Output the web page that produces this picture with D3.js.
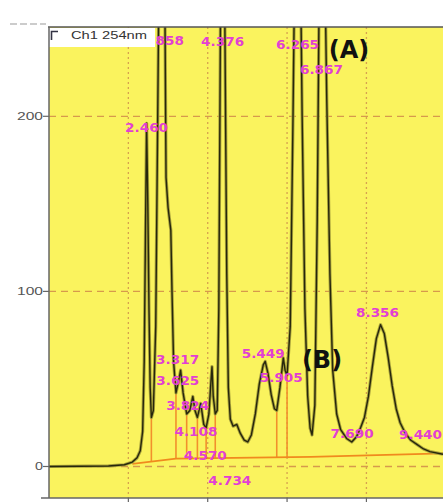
<!DOCTYPE html>
<meta charset="utf-8">
<style>
body { margin: 0; background: #fff; }
svg { display: block; font-family: "DejaVu Sans", sans-serif; }
</style>
<svg width="443" height="502"></svg>
<script src="https://cdnjs.cloudflare.com/ajax/libs/d3/7.8.5/d3.min.js"></script>
<script>

// chromatogram trace, Ch1 254nm (time in min, signal in mAU)
var traceTime = [0.00, 1.50, 1.90, 2.10, 2.22, 2.30, 2.36, 2.40, 2.43, 2.46, 2.49, 2.52, 2.55, 2.58,
  2.63, 2.69, 2.74, 2.78, 2.858, 2.91, 2.95, 3.00, 3.07, 3.10, 3.14, 3.20, 3.26, 3.317, 3.38, 3.47,
  3.55, 3.625, 3.68, 3.74, 3.824, 3.90, 3.96, 4.03, 4.08, 4.108, 4.14, 4.19, 4.24, 4.28, 4.32, 4.376,
  4.43, 4.48, 4.52, 4.570, 4.64, 4.734, 4.82, 4.92, 5.01, 5.10, 5.20, 5.30, 5.40, 5.449, 5.52, 5.60,
  5.68, 5.74, 5.82, 5.905, 5.95, 6.00, 6.08, 6.15, 6.21, 6.265, 6.32, 6.38, 6.45, 6.52, 6.58, 6.63,
  6.70, 6.76, 6.82, 6.867, 6.93, 7.00, 7.08, 7.15, 7.25, 7.35, 7.50, 7.63, 7.75, 7.85, 7.95, 8.05,
  8.15, 8.25, 8.356, 8.45, 8.55, 8.65, 8.75, 8.85, 8.98, 9.12, 9.28, 9.44, 9.60, 9.93];
var traceValue = [0, 0.3, 1, 2.5, 5, 9, 20, 60, 130, 196, 150, 90, 45, 28,
  32, 80, 200, 300, 380, 300, 165, 148, 135, 100, 60, 42, 48, 55, 42, 30,
  32, 40, 32, 28, 36, 24, 22, 30, 48, 57, 40, 30, 32, 90, 250, 400,
  260, 110, 45, 27, 23, 24, 19, 15, 14, 18, 30, 47, 58, 60, 53, 41,
  33, 32, 45, 62, 55, 52, 80, 200, 320, 400, 320, 200, 90, 40, 22, 18,
  35, 140, 300, 400, 320, 210, 110, 55, 30, 21, 16, 14, 17, 22, 28, 40,
  57, 73, 81, 76, 62, 46, 33, 25, 19, 15, 12.5, 10, 8.5, 7];

// integration baseline
var baseTime = [2.10, 3.20, 6.60, 9.93];
var baseValue = [1.5, 4.5, 5.5, 7.5];

// detected peaks
var peakTime = [2.460, 2.858, 3.317, 3.625, 3.824, 4.108, 4.376, 4.570, 4.734,
  5.449, 5.905, 6.265, 6.867, 7.690, 8.356, 9.440];
var peakLabel = ["2.460", "2.858", "3.317", "3.625", "3.824", "4.108", "4.376", "4.570", "4.734",
  "5.449", "5.905", "6.265", "6.867", "7.690", "8.356", "9.440"];

// peak separation (drop) lines
var dropTime = [2.58, 3.20, 3.47, 3.74, 3.96, 4.19, 5.74, 6.00];

var yTicks = [0, 100, 200];
var xGrid = [2, 4, 6, 8];

// label placement: [dx from peak, centre y]
var labelLayout = [[0, 128], [0, 41], [-3, 360], [-15, 381], [-13, 406], [-16, 432], [0, 42], [-25, 456], [-7, 481],
  [-2, 354], [-2, 378], [0, 45], [0, 70], [-2, 434], [-3, 313], [-3, 435]];

var svg = d3.select("svg");
var pL = 49, pR = 443, pT = 27, pB = 498;

var x = d3.scaleLinear().domain([0, 9.93]).range([pL, pR]);
var y = d3.scaleLinear().domain([-18, 251]).range([pB, pT]);

svg.append("defs").append("clipPath").attr("id", "plot")
  .append("rect").attr("x", pL).attr("y", pT).attr("width", pR - pL).attr("height", pB - pT);

svg.append("rect")
  .attr("x", pL).attr("y", pT).attr("width", pR - pL).attr("height", pB - pT)
  .attr("fill", "#faf35e");

// grid
svg.append("g").selectAll("line").data(xGrid).enter().append("line")
  .attr("x1", d => x(d)).attr("x2", d => x(d))
  .attr("y1", pT).attr("y2", pB)
  .attr("stroke", "#d6a24e").attr("stroke-width", 1.3).attr("stroke-dasharray", "2,3");
svg.append("g").selectAll("line").data(yTicks).enter().append("line")
  .attr("x1", pL).attr("x2", pR)
  .attr("y1", d => y(d)).attr("y2", d => y(d))
  .attr("stroke", "#d69a4c").attr("stroke-width", 1.3).attr("stroke-dasharray", "7,5");

var plot = svg.append("g").attr("clip-path", "url(#plot)");

var trace = d3.zip(traceTime, traceValue);
var base = d3.zip(baseTime, baseValue);
var line = d3.line().x(d => x(d[0])).y(d => y(d[1]));

function interp(ts, vs, t) {
  var i = d3.bisectLeft(ts, t);
  if (i <= 0) return vs[0];
  if (i >= ts.length) return vs[vs.length - 1];
  var f = (t - ts[i - 1]) / (ts[i] - ts[i - 1]);
  return vs[i - 1] + f * (vs[i] - vs[i - 1]);
}

// drop lines from baseline to trace
plot.append("g").selectAll("line").data(dropTime).enter().append("line")
  .attr("x1", d => x(d)).attr("x2", d => x(d))
  .attr("y1", d => y(interp(baseTime, baseValue, d)))
  .attr("y2", d => y(interp(traceTime, traceValue, d)))
  .attr("stroke", "#f2902c").attr("stroke-width", 1.6);

plot.append("path").datum(base)
  .attr("d", line).attr("fill", "none")
  .attr("stroke", "#f08a1e").attr("stroke-width", 1.6);

plot.append("path").datum(trace)
  .attr("d", line).attr("fill", "none")
  .attr("stroke", "#a9a33c").attr("stroke-width", 3.2).attr("stroke-linejoin", "round");
plot.append("path").datum(trace)
  .attr("d", line).attr("fill", "none")
  .attr("stroke", "#26260c").attr("stroke-width", 1.4).attr("stroke-linejoin", "round");

// peak labels
svg.append("g").selectAll("text").data(peakTime).enter().append("text")
  .attr("x", (d, i) => x(d) + labelLayout[i][0])
  .attr("y", (d, i) => labelLayout[i][1])
  .attr("text-anchor", "middle")
  .attr("dominant-baseline", "middle")
  .attr("font-size", 12).attr("font-weight", "bold")
  .attr("textLength", 43).attr("lengthAdjust", "spacingAndGlyphs")
  .attr("fill", "#e23fd3")
  .text((d, i) => peakLabel[i]);

// legend box (covers the left part of the first top label)
svg.append("rect").attr("x", pL).attr("y", pT + 1).attr("width", 106).attr("height", 19).attr("fill", "#fff");
svg.append("path").attr("d", "M51.5,40V31.5H58").attr("fill", "none").attr("stroke", "#334").attr("stroke-width", 1.6);
svg.append("text").attr("x", 71).attr("y", 38.5)
  .attr("font-family", "Liberation Sans").attr("font-size", 11)
  .attr("textLength", 76).attr("lengthAdjust", "spacingAndGlyphs")
  .attr("fill", "#333").text("Ch1 254nm");

svg.append("text").attr("x", 349).attr("y", 58).attr("text-anchor", "middle")
  .attr("font-size", 24).attr("font-weight", "bold").attr("fill", "#111").text("(A)");
svg.append("text").attr("x", 322).attr("y", 368).attr("text-anchor", "middle")
  .attr("font-size", 24).attr("font-weight", "bold").attr("fill", "#111").text("(B)");

// frame and axes
svg.append("line").attr("x1", pL - 1).attr("x2", pR).attr("y1", pT).attr("y2", pT)
  .attr("stroke", "#555").attr("stroke-width", 1.5);
svg.append("line").attr("x1", pL).attr("x2", pL).attr("y1", pT).attr("y2", pB)
  .attr("stroke", "#666").attr("stroke-width", 1.5);
svg.append("line").attr("x1", pL - 8).attr("x2", pR).attr("y1", pB).attr("y2", pB)
  .attr("stroke", "#666").attr("stroke-width", 1.5);
svg.append("g").selectAll("line").data(xGrid).enter().append("line")
  .attr("x1", d => x(d)).attr("x2", d => x(d)).attr("y1", pB).attr("y2", pB + 5)
  .attr("stroke", "#666").attr("stroke-width", 1.2);
svg.append("line").attr("x1", 10).attr("x2", 46).attr("y1", 24).attr("y2", 24)
  .attr("stroke", "#999").attr("stroke-width", 1.2).attr("stroke-dasharray", "7,3");

var yAxis = svg.append("g");
yAxis.selectAll("line").data(yTicks).enter().append("line")
  .attr("x1", pL - 6).attr("x2", pL).attr("y1", d => y(d)).attr("y2", d => y(d))
  .attr("stroke", "#666").attr("stroke-width", 1.2);
yAxis.selectAll("text").data(yTicks).enter().append("text")
  .attr("x", pL - 6).attr("y", d => y(d) + 4)
  .attr("text-anchor", "end")
  .attr("font-family", "Liberation Sans").attr("font-size", 11)
  .attr("textLength", d => d === 0 ? 8 : 26).attr("lengthAdjust", "spacingAndGlyphs")
  .attr("fill", "#555")
  .text(d => d);

</script>
